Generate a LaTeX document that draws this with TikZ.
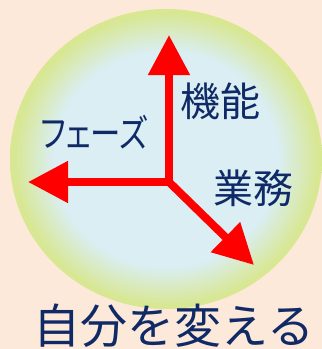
\documentclass[tikz,border=0pt]{standalone}
\usepackage{fontspec}
\newfontfamily\jp{Noto Sans CJK JP}
\newfontfamily\jpp[RawFeature=+palt]{Noto Sans CJK JP}
\usetikzlibrary{arrows.meta}
\definecolor{bg}{HTML}{FDE9D9}
\definecolor{ballin}{HTML}{DAEEF3}
\definecolor{ballout}{HTML}{D8E791}
\definecolor{navy}{HTML}{0F2A66}
\definecolor{redc}{HTML}{FF0000}
\pgfdeclareradialshading{ball}{\pgfpoint{0bp}{0bp}}{color(0bp)=(ballin); color(18bp)=(ballin); color(24.5bp)=(ballout); color(50bp)=(ballout)}
\tikzset{
  redline/.style={draw=redc, line width=8pt, line join=miter},
  head/.tip={Triangle[length=40pt,width=40pt]},
  lbl/.style={text=navy, inner sep=0pt, font=\jp\fontsize{40pt}{48pt}\selectfont},
  titlelbl/.style={text=navy, inner sep=0pt, font=\jp\fontsize{47pt}{54pt}\selectfont}
}
\begin{document}
\begin{tikzpicture}[x=1pt,y=-1pt]
\fill[bg] (0,0) rectangle (322,349);
\useasboundingbox (0,0) rectangle (322,349);
\shade[shading=ball] (166,159) ellipse [x radius=156, y radius=150];
\coordinate (c) at (169,182);
\coordinate (up) at (169,35);
\coordinate (lf) at (28,182);
\coordinate (dr) at (254,265);
\draw[redline, head-head] (up) -- (c) -- (lf);
\draw[redline, -head] (c) -- (dr);
\node[lbl] (kino) at (220,101) {機能};
\node[lbl] (gyomu) at (253,188) {業務};
\node[lbl, font=\jpp\fontsize{38pt}{46pt}\selectfont, xscale=0.8, transform shape] (phase) at (94,132) {フェーズ};
\node[titlelbl] (title) at (174,326) {自分を変える};
\end{tikzpicture}
\end{document}
